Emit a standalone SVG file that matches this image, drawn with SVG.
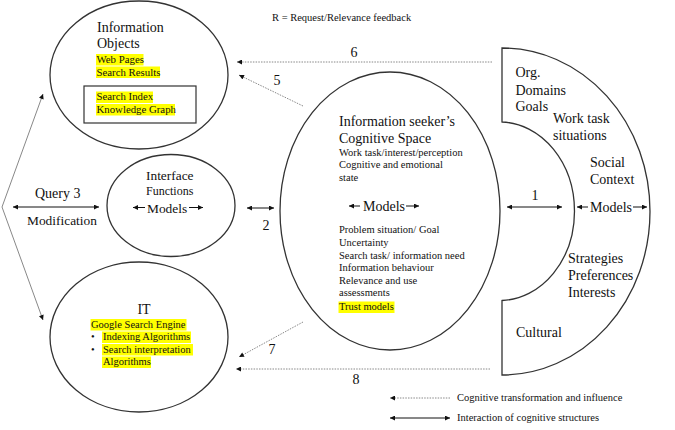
<svg xmlns="http://www.w3.org/2000/svg" width="675" height="430" viewBox="0 0 675 430">
<defs>
<marker id="ah" viewBox="0 0 10 10" refX="10" refY="5" markerWidth="6" markerHeight="5" markerUnits="userSpaceOnUse" orient="auto-start-reverse"><path d="M0,0 L10,5 L0,10 z" fill="#111"/></marker>
</defs>
<style>
text{font-family:"Liberation Serif","Times New Roman",serif;fill:#111}
.t14{font-size:14px}
.t13{font-size:13.4px}
.t12{font-size:12px}
.s{font-size:10.5px}
.s8{font-size:10.8px}
.hl{fill:#ffff00}
.shape{fill:#fff;stroke:#333;stroke-width:1.3}
.solid{stroke:#111;stroke-width:1;fill:none}
.gray{stroke:#888;stroke-width:1;fill:none}
.dot{stroke:#888;stroke-width:1;stroke-dasharray:1.5 1.2;fill:none}
</style>
<rect width="675" height="430" fill="#fff"/>

<g id="info-objects">
<ellipse class="shape" cx="139" cy="75" rx="89" ry="74"/>
<text class="t14" x="97" y="32">Information</text>
<text class="t14" x="97" y="48">Objects</text>
<rect class="hl" x="96" y="54" width="47.5" height="11.5"/>
<rect class="hl" x="96" y="66.5" width="64" height="11.5"/>
<text class="s8" x="96.5" y="63">Web Pages</text>
<text class="s8" x="96.5" y="75.5">Search Results</text>
<rect x="84" y="86" width="112" height="37" fill="#fff" stroke="#333" stroke-width="1.2"/>
<rect class="hl" x="96" y="91.5" width="57" height="11.5"/>
<rect class="hl" x="96" y="104" width="79" height="11.5"/>
<text class="s8" x="96.5" y="100">Search Index</text>
<text class="s8" x="96.5" y="112.5">Knowledge Graph</text>
</g>

<g id="interface">
<ellipse class="shape" cx="171" cy="205.5" rx="64" ry="51"/>
<text class="t13" x="146" y="180">Interface</text>
<text class="t12" x="146" y="195">Functions</text>
<text class="t13" x="147" y="212.5">Models</text>
<line class="solid" x1="145" y1="207.5" x2="133" y2="207.5" marker-end="url(#ah)"/>
<line class="solid" x1="189" y1="207.5" x2="203" y2="207.5" marker-end="url(#ah)"/>
</g>

<g id="it">
<ellipse class="shape" cx="139" cy="337" rx="89" ry="75"/>
<text class="t14" x="144" y="314" text-anchor="middle">IT</text>
<rect class="hl" x="90.5" y="319" width="96" height="11.5"/>
<rect class="hl" x="102" y="331.5" width="89" height="11.5"/>
<rect class="hl" x="102" y="344" width="91" height="11.5"/>
<rect class="hl" x="102" y="356.5" width="49" height="11.5"/>
<text class="s" x="91" y="327.5">Google Search Engine</text>
<text class="s" x="91" y="340">•</text>
<text class="s" x="103" y="340">Indexing Algorithms</text>
<text class="s" x="91" y="352.5">•</text>
<text class="s" x="103" y="352.5">Search interpretation</text>
<text class="s" x="103" y="365">Algorithms</text>
</g>

<g id="cognitive-space">
<ellipse class="shape" cx="390" cy="211" rx="110" ry="139"/>
<text class="t14" x="339" y="126">Information seeker’s</text>
<text class="t14" x="339" y="143">Cognitive Space</text>
<text class="s" x="339" y="156">Work task/interest/perception</text>
<text class="s" x="339" y="168">Cognitive and emotional</text>
<text class="s" x="339" y="180.5">state</text>
<text class="t14" x="363" y="211">Models</text>
<line class="solid" x1="360" y1="206" x2="349" y2="206" marker-end="url(#ah)"/>
<line class="solid" x1="406" y1="206" x2="419" y2="206" marker-end="url(#ah)"/>
<text class="s" x="339" y="233">Problem situation/ Goal</text>
<text class="s" x="339" y="246">Uncertainty</text>
<text class="s" x="339" y="258.5">Search task/ information need</text>
<text class="s" x="339" y="271">Information behaviour</text>
<text class="s" x="339" y="283.5">Relevance and use</text>
<text class="s" x="339" y="296">assessments</text>
<rect class="hl" x="338.5" y="301.5" width="56" height="11.5"/>
<text class="s" x="339" y="309.5">Trust models</text>
</g>

<g id="social-context">
<path class="shape" d="M502,48 A148,163.5 0 0 1 502,375 L502,300.5 A75,89.3 0 0 0 502,122 Z"/>
<text class="t14" x="515.5" y="77">Org.</text>
<text class="t14" x="515.5" y="94.5">Domains</text>
<text class="t14" x="515.5" y="111">Goals</text>
<text class="t14" x="553" y="123">Work task</text>
<text class="t14" x="553" y="140">situations</text>
<text class="t14" x="590" y="167">Social</text>
<text class="t14" x="590" y="184">Context</text>
<text class="t14" x="590" y="212">Models</text>
<line class="solid" x1="588" y1="207" x2="577" y2="207" marker-end="url(#ah)"/>
<line class="solid" x1="633" y1="207" x2="647" y2="207" marker-end="url(#ah)"/>
<text class="t14" x="568" y="263">Strategies</text>
<text class="t14" x="568" y="280">Preferences</text>
<text class="t14" x="568" y="297">Interests</text>
<text class="t14" x="516" y="337">Cultural</text>
</g>

<g id="connectors">
<line class="gray" x1="2" y1="207" x2="43" y2="94" marker-end="url(#ah)"/>
<line class="gray" x1="2" y1="207" x2="43" y2="320" marker-end="url(#ah)"/>
<line class="solid" x1="13" y1="207" x2="99" y2="207" marker-start="url(#ah)" marker-end="url(#ah)"/>
<text class="t14" x="35" y="198">Query 3</text>
<text class="t13" x="27" y="225">Modification</text>
<line class="solid" x1="247" y1="208" x2="274" y2="208" marker-start="url(#ah)" marker-end="url(#ah)"/>
<text class="t14" x="266" y="230" text-anchor="middle">2</text>
<line class="solid" x1="507" y1="207" x2="562" y2="207" marker-start="url(#ah)" marker-end="url(#ah)"/>
<text class="t14" x="535" y="200" text-anchor="middle">1</text>
<line class="dot" x1="492" y1="62" x2="237" y2="62" marker-end="url(#ah)"/>
<text class="t14" x="354" y="57" text-anchor="middle">6</text>
<line class="dot" x1="303" y1="106" x2="239" y2="75" marker-end="url(#ah)"/>
<text class="t14" x="277" y="85" text-anchor="middle">5</text>
<line class="dot" x1="303" y1="322" x2="239" y2="357" marker-end="url(#ah)"/>
<text class="t14" x="272" y="354" text-anchor="middle">7</text>
<line class="dot" x1="490" y1="369" x2="236" y2="369" marker-end="url(#ah)"/>
<text class="t14" x="356" y="384" text-anchor="middle">8</text>
</g>

<g id="legend">
<text class="s" x="272" y="21">R = Request/Relevance feedback</text>
<line class="dot" x1="450" y1="398" x2="390" y2="398" marker-end="url(#ah)"/>
<text class="s" x="457" y="401">Cognitive transformation and influence</text>
<line class="solid" x1="390" y1="418" x2="450" y2="418" marker-start="url(#ah)" marker-end="url(#ah)"/>
<text class="s" x="457" y="421">Interaction of cognitive structures</text>
</g>
</svg>
